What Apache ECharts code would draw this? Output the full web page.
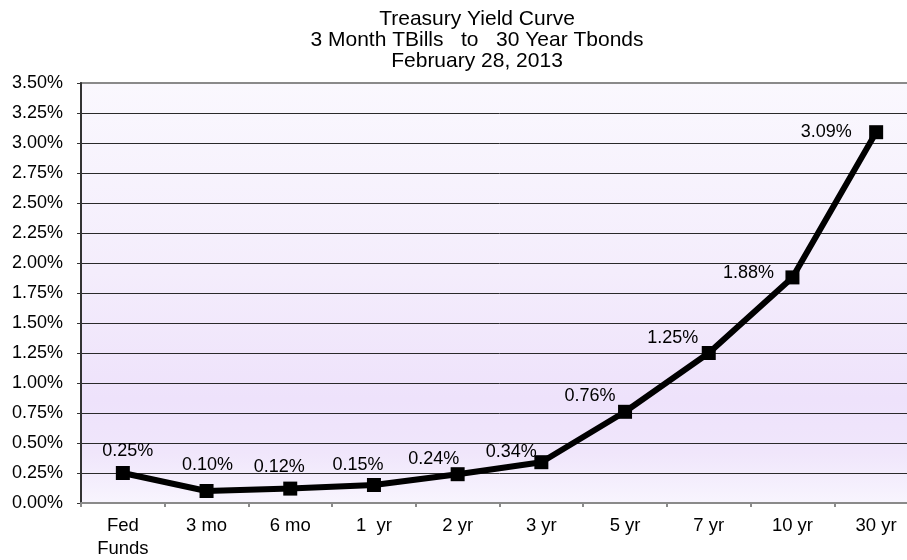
<!DOCTYPE html>
<html>
<head>
<meta charset="utf-8">
<script src="https://cdn.jsdelivr.net/npm/echarts@6/dist/echarts.min.js"></script>
<style>
html,body{margin:0;padding:0;background:#fff;overflow:hidden;width:907px;height:560px;}
#chart{width:918px;height:560px;}
</style>
</head>
<body>
<div id="chart"></div>
<script>
// ---- data ----
const titleLines = ['Treasury Yield Curve', '3 Month TBills   to   30 Year Tbonds', 'February 28, 2013'];
const categories = ['Fed\nFunds', '3 mo', '6 mo', '1  yr', '2 yr', '3 yr', '5 yr', '7 yr', '10 yr', '30 yr'];
const yields = [0.25, 0.10, 0.12, 0.15, 0.24, 0.34, 0.76, 1.25, 1.88, 3.09];
const yMin = 0, yMax = 3.5, yStep = 0.25;

// ---- style (label placement relative to each marker) ----
const labelOffsets = [[5,-22],[1,-26],[-11,-22],[-16,-20],[-24,-15],[-30,-10],[-35,-16],[-36,-15],[-44,-4],[-50,0]];

const FONT = '"Liberation Sans", Arial, sans-serif';
const chart = echarts.init(document.getElementById('chart'));
chart.setOption({
  animation: false,
  backgroundColor: '#ffffff',
  title: {
    text: titleLines.join('\n'),
    left: 477, top: 9, padding: 0,
    textAlign: 'center',
    textStyle: { fontFamily: FONT, fontSize: 21, fontWeight: 'normal', color: '#000', lineHeight: 21 }
  },
  grid: {
    left: 81, right: 0, top: 83, bottom: 53,
    show: true,
    borderColor: '#8a8a8a', borderWidth: 2,
    backgroundColor: new echarts.graphic.LinearGradient(0, 0, 0, 1, [
      { offset: 0, color: '#faf8fe' },
      { offset: 0.45, color: '#f4edfc' },
      { offset: 0.75, color: '#eee2fb' },
      { offset: 0.88, color: '#f0e6fb' },
      { offset: 1, color: '#f8f5fe' }
    ])
  },
  xAxis: {
    type: 'category',
    data: categories,
    boundaryGap: true,
    axisLine: { show: true, lineStyle: { color: '#8a8a8a', width: 2 } },
    axisTick: { show: true, inside: false, length: 4, lineStyle: { color: '#8a8a8a', width: 2 } },
    axisLabel: { color: '#000', fontFamily: FONT, fontSize: 18.5, margin: 11, lineHeight: 23 },
    splitLine: { show: false }
  },
  yAxis: {
    type: 'value',
    min: yMin, max: yMax, interval: yStep,
    axisLine: { show: true, lineStyle: { color: '#333', width: 2 } },
    axisTick: { show: true, inside: false, length: 4, lineStyle: { color: '#333', width: 1 } },
    axisLabel: { color: '#000', fontFamily: FONT, fontSize: 18, margin: 18,
      formatter: v => v.toFixed(2) + '%' },
    splitLine: { show: true, showMaxLine: false, showMinLine: false, lineStyle: { color: '#2a2a2a', width: 1 } }
  },
  series: [{
    type: 'line',
    data: yields.map((v, i) => ({ value: v, label: { offset: labelOffsets[i] } })),
    symbol: 'rect',
    symbolSize: 14,
    lineStyle: { color: '#000', width: 6 },
    itemStyle: { color: '#000' },
    label: {
      show: true,
      position: 'inside',
      align: 'center',
      verticalAlign: 'middle',
      color: '#000',
      fontFamily: FONT,
      fontSize: 18,
      formatter: p => p.value.toFixed(2) + '%'
    }
  }]
});
</script>
</body>
</html>
